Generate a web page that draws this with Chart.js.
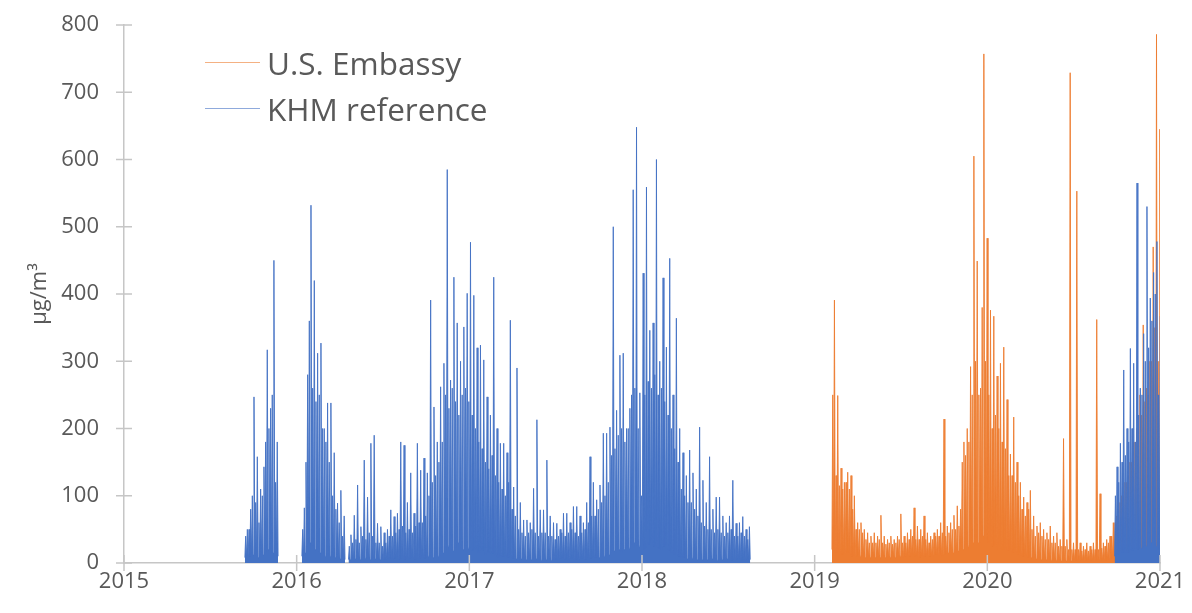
<!DOCTYPE html>
<html>
<head>
<meta charset="utf-8">
<title>PM2.5 – U.S. Embassy and KHM reference</title>
<script src="https://cdn.jsdelivr.net/npm/chart.js@4.4.0/dist/chart.umd.min.js"></script>
<style>
  html, body { margin: 0; padding: 0; background: #fff; }
  .wrap { position: relative; width: 1192px; height: 613px; }
  .legend {
    position: absolute; left: 205px; top: 39px;
    font-family: 'Open Sans', sans-serif; font-size: 31.5px; color: #595959;
  }
  .legend .row { display: flex; align-items: center; height: 46px; }
  .legend .swatch { display: inline-block; width: 55px; height: 0; border-top: 1px solid; margin-right: 7px; }
</style>
</head>
<body>
<div class="wrap">
  <canvas id="chart" width="1192" height="613"></canvas>
  <div class="legend">
    <div class="row"><span class="swatch" style="border-color: rgba(237,125,49,0.6)"></span>U.S. Embassy</div>
    <div class="row"><span class="swatch" style="border-color: rgba(68,114,196,0.6)"></span>KHM reference</div>
  </div>
</div>
<script>
// axis ticks
const yearTicks = [2015, 2016, 2017, 2018, 2019, 2020, 2021];
const valueTicks = [0, 100, 200, 300, 400, 500, 600, 700, 800];

// data, one entry per week: the highest spike,
// the top of the dense band and the floor
const weekSpan = 1 / 52;

// KHM reference, autumn 2015
const khmStart2015 = 2015.70;
const khmPeak2015 = [50, 80, 247, 158, 110, 143, 317, 230, 450, 180];
const khmBand2015 = [40, 50, 100, 90, 60, 100, 180, 200, 250, 120];
const khmLow2015 = [8, 10, 12, 10, 8, 12, 15, 20, 15, 10];

// KHM reference, winter 2016
const khmStart2016 = 2016.03;
const khmPeak2016 = [82, 280, 532, 420, 312, 327, 200, 238, 238, 164, 89, 108, 70];
const khmBand2016 = [50, 150, 360, 260, 240, 250, 200, 180, 150, 100, 80, 60, 40];
const khmLow2016 = [10, 15, 30, 25, 20, 15, 12, 10, 10, 8, 8, 6, 5];

// KHM reference, spring 2016 to summer 2018
const khmStartMain = 2016.30;
const khmPeakMain = [
  42, 71, 116, 54, 153, 98, 178, 190, 59, 54,
  45, 50, 79, 69, 74, 180, 175, 90, 134, 74,
  178, 138, 156, 134, 391, 232, 180, 262, 297, 585,
  272, 425, 357, 300, 351, 401, 477, 398, 320, 324,
  302, 247, 220, 425, 200, 178, 178, 164, 361, 113,
  290, 90, 64, 64, 60, 111, 213, 79, 79, 153,
  70, 60, 59, 50, 74, 74, 60, 84, 84, 70,
  60, 90, 158, 120, 94, 116, 193, 193, 202, 500,
  227, 309, 312, 200, 230, 555, 648, 253, 431, 559,
  346, 357, 600, 300, 424, 321, 453, 250, 364, 200,
  164, 130, 168, 134, 110, 202, 123, 90, 158, 80,
  98, 98, 70, 60, 70, 123, 59, 60, 69, 50, 54
];
const khmBandMain = [
  25, 30, 35, 30, 40, 35, 45, 40, 30, 30, 25, 30,
  40, 40, 45, 50, 55, 45, 50, 45, 55, 60, 60, 70,
  100, 120, 130, 150, 180,
  250, 230, 260, 240, 220, 250, 260, 240,
  220, 200, 180, 170, 150, 140, 160,
  130, 120, 110, 100, 120, 80, 70,
  50, 45, 40, 45, 50, 45, 40, 45,
  45, 40, 40, 35, 40, 45, 40, 45, 50, 45, 40, 45, 50,
  60, 70, 70, 80, 90, 100, 120,
  160, 170, 190, 200, 180, 200,
  250, 260, 200, 100, 250, 270, 260, 280, 250, 260, 240, 220,
  200, 170, 150,
  110, 100, 90, 90, 80, 70,
  60, 55, 50, 50, 45, 50, 45, 40, 45, 50, 40, 40, 45, 40, 35
];
const khmLowMain = [
  5, 4, 6, 5, 5, 7, 5, 4, 6, 5, 4, 5,
  6, 5, 7, 5, 6, 5, 6, 7, 5, 6, 8, 7,
  10, 8, 12, 10, 15,
  20, 25, 18, 22, 30, 20, 25, 22,
  18, 20, 15, 18, 12, 15, 14,
  10, 8, 10, 9, 8, 7, 6,
  5, 6, 5, 4, 5, 6, 5, 4,
  5, 6, 4, 5, 5, 6, 5, 4, 6, 5, 5, 6, 5,
  6, 7, 8, 8, 10, 10, 12,
  15, 18, 20, 15, 20, 22,
  25, 30, 25, 35, 20, 28, 30, 25, 22, 20, 25, 18,
  15, 12, 10,
  8, 8, 6, 7, 6, 5,
  5, 4, 5, 6, 5, 4, 5, 5, 6, 4, 5, 5, 4, 5, 5
];

// KHM reference, autumn 2020
const khmStart2020 = 2020.737;
const khmPeak2020 = [143, 178, 287, 200, 319, 297, 565, 260, 341, 530, 394, 432, 478, 367];
const khmBand2020 = [100, 120, 150, 160, 180, 200, 180, 220, 250, 300, 320, 360, 400, 250];
const khmLow2020 = [10, 12, 15, 15, 15, 18, 20, 20, 22, 25, 25, 30, 25, 20];

// U.S. Embassy, 2019 to 2021
const embassyStart = 2019.10;
const embassyPeak = [
  391, 249, 141, 120, 135, 130, 100, 60, 60, 50,
  45, 40, 45, 40, 71, 40, 35, 40, 35, 40,
  73, 40, 45, 50, 82, 55, 50, 70, 45, 40,
  45, 50, 60, 214, 55, 60, 71, 85, 80, 180,
  200, 292, 605, 449, 260, 757, 483, 376, 367, 278,
  297, 321, 243, 162, 217, 150, 120, 98, 90, 108,
  70, 55, 60, 50, 45, 55, 40, 45, 35, 185,
  35, 729, 30, 553, 30, 25, 30, 25, 30, 362,
  103, 30, 35, 40, 60, 70, 90, 100, 120, 150,
  180, 200, 250, 354, 260, 300, 470, 786, 645
];
const embassyBand = [
  250, 130, 115, 110, 120, 110, 80, 50, 50, 45,
  35, 30, 30, 30, 35, 30, 28, 30, 28, 30,
  35, 30, 30, 35, 40, 35, 35, 40, 35, 30,
  35, 40, 40, 45, 40, 45, 50, 50, 55, 150,
  160, 180, 250, 300, 250, 380, 300, 250, 200, 220,
  200, 180, 170, 130, 130, 120, 100, 80, 70, 80,
  50, 40, 45, 40, 35, 35, 30, 30, 25, 25,
  25, 20, 20, 20, 20, 18, 20, 18, 20, 20,
  20, 22, 25, 30, 40, 60, 80, 100, 120, 130,
  150, 180, 200, 220, 240, 250, 300, 350, 300
];
const embassyLow = [
  20, 15, 15, 12, 15, 12, 10, 10, 10, 10,
  8, 8, 10, 8, 8, 10, 8, 8, 10, 8,
  10, 8, 10, 10, 12, 10, 8, 10, 10, 10,
  10, 12, 12, 10, 12, 15, 15, 15, 18, 20,
  25, 25, 30, 35, 30, 40, 35, 30, 25, 25,
  20, 20, 20, 18, 15, 15, 12, 10, 10, 8,
  8, 6, 6, 5, 5, 5, 4, 4, 3, 3,
  3, 3, 3, 3, 3, 3, 3, 3, 3, 3,
  3, 3, 4, 5, 6, 8, 10, 10, 12, 15,
  15, 20, 20, 20, 25, 25, 30, 30, 30
];

const axisColor = '#c6c6c6';
const textColor = '#595959';

// turn one stretch of weekly values into points: floor, band, floor, spike
function weeklyPoints(start, peak, band, low) {
  const pts = [];
  peak.forEach((p, i) => {
    const t = start + i * weekSpan;
    pts.push({ x: t, y: low[i] });
    pts.push({ x: t + weekSpan * 0.25, y: band[i] });
    pts.push({ x: t + weekSpan * 0.5, y: low[i] });
    pts.push({ x: t + weekSpan * 0.75, y: p });
  });
  const last = peak.length - 1;
  pts.push({ x: start + peak.length * weekSpan, y: low[last] });
  return pts;
}

// stretches separated by a break in the line
function joinStretches(stretches) {
  let out = [];
  stretches.forEach((s, i) => {
    if (i > 0) out.push({ x: s[0].x - weekSpan * 0.1, y: null });
    out = out.concat(s);
  });
  return out;
}

const khmPoints = joinStretches([
  weeklyPoints(khmStart2015, khmPeak2015, khmBand2015, khmLow2015),
  weeklyPoints(khmStart2016, khmPeak2016, khmBand2016, khmLow2016),
  weeklyPoints(khmStartMain, khmPeakMain, khmBandMain, khmLowMain),
  weeklyPoints(khmStart2020, khmPeak2020, khmBand2020, khmLow2020)
]);
const embassyPoints = weeklyPoints(embassyStart, embassyPeak, embassyBand, embassyLow);

// tick marks that cross the axis lines
const crossTicks = {
  id: 'crossTicks',
  afterDraw(chart) {
    const { ctx } = chart;
    const x = chart.scales.x;
    const y = chart.scales.y;
    ctx.save();
    ctx.strokeStyle = axisColor;
    ctx.lineWidth = 1.5;
    ctx.beginPath();
    yearTicks.forEach(v => {
      const px = x.getPixelForValue(v);
      ctx.moveTo(px, y.bottom - 8);
      ctx.lineTo(px, y.bottom + 8);
    });
    valueTicks.forEach(v => {
      const py = y.getPixelForValue(v);
      ctx.moveTo(x.left - 8, py);
      ctx.lineTo(x.left + 8, py);
    });
    ctx.stroke();
    ctx.restore();
  }
};

Chart.defaults.font.family = "'Open Sans', sans-serif";

const ctx = document.getElementById('chart');
new Chart(ctx, {
  type: 'line',
  data: {
    datasets: [
      {
        label: 'KHM reference',
        data: khmPoints,
        borderColor: '#4472C4',
        backgroundColor: '#4472C4',
        fill: 'origin',
        borderWidth: 0.9,
        borderJoinStyle: 'bevel',
        pointRadius: 0,
        tension: 0,
        spanGaps: false,
        order: 1
      },
      {
        label: 'U.S. Embassy',
        data: embassyPoints,
        borderColor: '#ED7D31',
        backgroundColor: '#ED7D31',
        fill: 'origin',
        borderWidth: 0.9,
        borderJoinStyle: 'bevel',
        pointRadius: 0,
        tension: 0,
        spanGaps: false,
        order: 2
      }
    ]
  },
  options: {
    responsive: false,
    animation: false,
    layout: { padding: { top: 25, right: 32, left: 0, bottom: 0 } },
    plugins: {
      legend: { display: false },
      tooltip: { enabled: false }
    },
    scales: {
      x: {
        type: 'linear',
        min: yearTicks[0],
        max: yearTicks[yearTicks.length - 1],
        afterBuildTicks: s => { s.ticks = yearTicks.map(v => ({ value: v })); },
        afterFit: s => { s.height = 50; },
        grid: { drawOnChartArea: false, drawTicks: false },
        border: { color: axisColor, width: 1.5 },
        ticks: {
          color: textColor,
          font: { size: 22 },
          padding: 6,
          maxRotation: 0,
          callback: v => String(v)
        }
      },
      y: {
        min: valueTicks[0],
        max: valueTicks[valueTicks.length - 1],
        afterBuildTicks: s => { s.ticks = valueTicks.map(v => ({ value: v })); },
        afterFit: s => { s.width = 124; },
        grid: { drawOnChartArea: false, drawTicks: true, tickLength: 19, tickColor: 'rgba(0,0,0,0)' },
        border: { color: axisColor, width: 1.5 },
        ticks: {
          color: textColor,
          font: { size: 22 },
          padding: 6
        },
        title: {
          display: true,
          text: 'μg/m³',
          color: textColor,
          font: { size: 22 },
          padding: { top: 27, bottom: 0 }
        }
      }
    }
  },
  plugins: [crossTicks]
});
</script>
</body>
</html>
